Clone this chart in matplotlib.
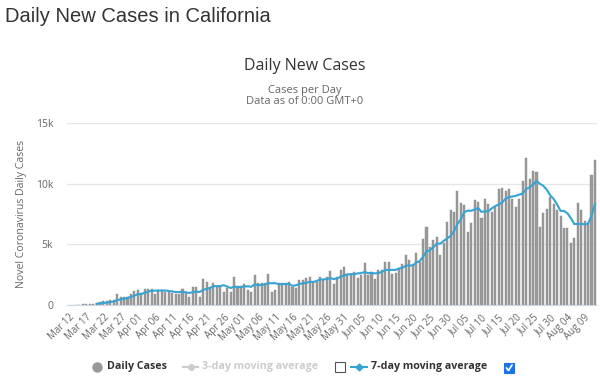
import numpy as np
import pandas as pd
import matplotlib
matplotlib.use("Agg")
import matplotlib.pyplot as plt
from matplotlib.lines import Line2D
from matplotlib.patches import Rectangle

plt.rcParams["font.family"] = ["Open Sans", "DejaVu Sans"]

# 数据：加州每日新增病例（从 3 月 12 日开始）
start_date = "2020-03-12"
daily_cases = [
    np.nan, np.nan, 30, 40, 90, 100, 110, 120, 200, 250,
    300, 330, 380, 450, 900, 640, 650, 700, 920, 1170,
    1250, 1030, 1280, 1300, 1330, 900, 1250, 1250, 1050, 1050,
    1030, 920, 920, 1300, 1050, 700, 1450, 1450, 620, 2150,
    1900, 1500, 1800, 1500, 1450, 1100, 1400, 1050, 2300, 1550,
    1550, 1750, 1200, 1100, 2450, 1780, 1780, 1780, 2530, 1110,
    1200, 1780, 1830, 1780, 1920, 1470, 1360, 2030, 2030, 2250,
    2300, 1890, 1920, 2300, 2030, 2300, 2800, 1700, 2300, 2860,
    3110, 2590, 2450, 2720, 2220, 2450, 3500, 2450, 2720, 2170,
    2920, 2920, 3530, 3530, 2530, 2670, 2970, 3340, 4090, 3720,
    3390, 4280, 3530, 5450, 6450, 4810, 5370, 5620, 4140, 5140,
    6870, 7870, 7670, 9370, 8420, 8260, 5980, 6780, 8620, 8530,
    7140, 8700, 8340, 7670, 8060, 9540, 9650, 9370, 9590, 8700,
    8090, 8760, 10230, 12120, 10420, 11040, 10950, 6390, 7590, 7950,
    8920, 8340, 7810, 7310, 6310, 6310, 5090, 5530, 8420, 7870,
    6950, 6760, 10700, 11950,
]
y_ticks = [0, 5000, 10000, 15000]
y_tick_labels = ["0", "5k", "10k", "15k"]

dates = pd.date_range(start_date, periods=len(daily_cases))
cases = pd.Series(daily_cases, index=dates)
avg7 = cases.rolling(7).mean()
x = np.arange(len(cases))

fig = plt.figure(figsize=(6, 3.8), dpi=100)
ax = fig.add_axes([67 / 600, 1 - 305 / 380, 530 / 600, 182 / 380])

# 柱状图 + 7 日均线
ax.bar(x, cases.values, width=0.6, color="#9a9a9a", edgecolor="#8a8a8a", linewidth=0.3, zorder=2)
ax.plot(x, avg7.values, color="#35a4d4", lw=1.5, zorder=3)

ax.set_xlim(-0.6, len(x) - 0.4)
ax.set_ylim(0, 15000)
ax.set_yticks(y_ticks)
ax.set_yticklabels(y_tick_labels)
ax.grid(axis="y", color="#e6e6e6", lw=0.9, zorder=0)
ax.tick_params(axis="y", length=0, pad=10, labelsize=7.5, labelcolor="#666666")

tick_pos = x[::5]
ax.set_xticks(tick_pos)
ax.set_xticklabels([d.strftime("%b %d") for d in dates[::5]], rotation=45,
                   ha="right", rotation_mode="anchor")
ax.tick_params(axis="x", length=0, pad=5, labelsize=7, labelcolor="#666666")

for side in ["top", "right", "left"]:
    ax.spines[side].set_visible(False)
ax.spines["bottom"].set_color("#ccd6eb")

# 标题
fig.text(5 / 600, 1 - 16 / 380, "Daily New Cases in California", fontsize=14.5,
         color="#333333", va="center", ha="left", family=["Liberation Sans", "DejaVu Sans"])
fig.text(305 / 600, 1 - 66 / 380, "Daily New Cases", fontsize=11.5, color="#333333",
         ha="center", va="center")
fig.text(305 / 600, 1 - 90 / 380, "Cases per Day", fontsize=8, color="#666666",
         ha="center", va="center")
fig.text(305 / 600, 1 - 102 / 380, "Data as of 0:00 GMT+0", fontsize=8, color="#666666",
         ha="center", va="center")
fig.text(22 / 600, 1 - 214 / 380, "Novel Coronavirus Daily Cases", fontsize=7.6,
         color="#666666", rotation=90, ha="center", va="center")

# 图例
ly = 1 - 367 / 380
fig.add_artist(Line2D([97 / 600], [ly], marker="o", markersize=6.5, color="#999999",
                      transform=fig.transFigure))
fig.text(107 / 600, ly, "Daily Cases", fontsize=7.7, fontweight="bold", color="#333333",
         va="center")
fig.add_artist(Line2D([183 / 600, 198 / 600], [ly, ly], color="#cccccc", lw=1.5,
                      transform=fig.transFigure))
fig.add_artist(Line2D([190.5 / 600], [ly], marker="o", markersize=4, color="#cccccc",
                      transform=fig.transFigure))
fig.text(202 / 600, ly, "3-day moving average", fontsize=7.7, fontweight="bold",
         color="#cccccc", va="center")
fig.add_artist(Rectangle((335 / 600, 1 - 372 / 380), 10 / 600, 10 / 380, fill=False,
                         edgecolor="#555555", lw=0.8, transform=fig.transFigure))
fig.add_artist(Line2D([351 / 600, 367 / 600], [ly, ly], color="#35a4d4", lw=1.5,
                      transform=fig.transFigure))
fig.add_artist(Line2D([359 / 600], [ly], marker="D", markersize=3.5, color="#35a4d4",
                      transform=fig.transFigure))
fig.text(371 / 600, ly, "7-day moving average", fontsize=7.7, fontweight="bold",
         color="#333333", va="center")
fig.add_artist(Rectangle((504 / 600, 1 - 373 / 380), 10 / 600, 10 / 380, facecolor="#1a73e8",
                         edgecolor="#1a73e8", lw=0.8, transform=fig.transFigure))
fig.add_artist(Line2D([506.5 / 600, 508.5 / 600, 512 / 600],
                      [1 - 368 / 380, 1 - 370.5 / 380, 1 - 365 / 380],
                      color="white", lw=1.2, transform=fig.transFigure))

fig.savefig("out.png", dpi=100)
plt.close(fig)
